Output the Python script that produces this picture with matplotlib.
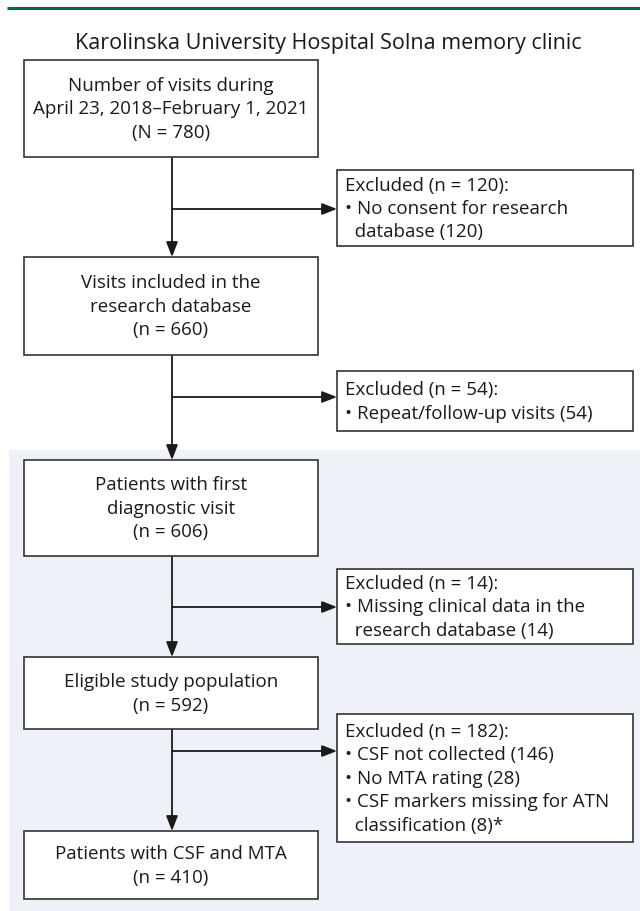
import matplotlib.pyplot as plt
from matplotlib.patches import Rectangle

plt.rcParams['font.family'] = ['Open Sans', 'DejaVu Sans']

title = 'Karolinska University Hospital Solna memory clinic'

main_labels = [
    ['Number of visits during', 'April 23, 2018\u2013February 1, 2021', '(N = 780)'],
    ['Visits included in the', 'research database', '(n = 660)'],
    ['Patients with first', 'diagnostic visit', '(n = 606)'],
    ['Eligible study population', '(n = 592)'],
    ['Patients with CSF and MTA', '(n = 410)'],
]

excluded_labels = [
    ['Excluded (n = 120):', '\u2022 No consent for research', '  database (120)'],
    ['Excluded (n = 54):', '\u2022 Repeat/follow-up visits (54)'],
    ['Excluded (n = 14):', '\u2022 Missing clinical data in the', '  research database (14)'],
    ['Excluded (n = 182):', '\u2022 CSF not collected (146)', '\u2022 No MTA rating (28)',
     '\u2022 CSF markers missing for ATN', '  classification (8)*'],
]

# layout in pixels (top, bottom)
main_y = [(61, 158), (258, 356), (461, 557), (658, 730), (832, 900)]
excl_y = [(171, 247), (372, 432), (570, 645), (715, 843)]
arrow_y = [210, 398, 608, 752]
main_x = (24, 318)
excl_x = (337, 633)
stem_x = 172
line_h = 23.5
fs = 13.5
text_color = '#1a1a1a'
edge_color = '#333333'

fig = plt.figure(figsize=(6.4, 9.12), dpi=100)
ax = fig.add_axes([0, 0, 1, 1])
ax.set_xlim(0, 640)
ax.set_ylim(912, 0)
ax.axis('off')

# top green rule and shaded area
ax.plot([7, 640], [9, 9], color='#00694a', lw=2.2, solid_capstyle='butt')
ax.add_patch(Rectangle((9, 451), 631, 461, facecolor='#eef1f7', edgecolor='none', zorder=0))

ax.text(328, 44, title, ha='center', va='center', fontsize=15.5, color=text_color)


def draw_box(x0, x1, y0, y1, lines, centered):
    ax.add_patch(Rectangle((x0, y0), x1 - x0, y1 - y0, facecolor='white',
                           edgecolor=edge_color, lw=1.2, zorder=2))
    n = len(lines)
    cy = (y0 + y1) / 2
    for i, s in enumerate(lines):
        yy = cy + (i - (n - 1) / 2) * line_h
        if centered:
            ax.text((x0 + x1) / 2, yy, s, ha='center', va='center', fontsize=fs,
                    color=text_color, zorder=3)
        else:
            ax.text(x0 + 8, yy, s, ha='left', va='center', fontsize=fs,
                    color=text_color, zorder=3)


for lines, (y0, y1) in zip(main_labels, main_y):
    draw_box(main_x[0], main_x[1], y0, y1, lines, True)

for lines, (y0, y1) in zip(excluded_labels, excl_y):
    draw_box(excl_x[0], excl_x[1], y0, y1, lines, False)

# vertical arrows between main boxes
for (a0, a1), (b0, b1) in zip(main_y[:-1], main_y[1:]):
    ax.annotate('', xy=(stem_x, b0), xytext=(stem_x, a1),
                arrowprops=dict(arrowstyle='-|>,head_length=0.9,head_width=0.35',
                                color='#1a1a1a', lw=1.3, shrinkA=0, shrinkB=0), zorder=1)

# horizontal arrows to excluded boxes
for yy in arrow_y:
    ax.annotate('', xy=(excl_x[0], yy), xytext=(stem_x, yy),
                arrowprops=dict(arrowstyle='-|>,head_length=0.9,head_width=0.35',
                                color='#1a1a1a', lw=1.3, shrinkA=0, shrinkB=0), zorder=1)

fig.savefig('out.png', dpi=100, facecolor='white')
